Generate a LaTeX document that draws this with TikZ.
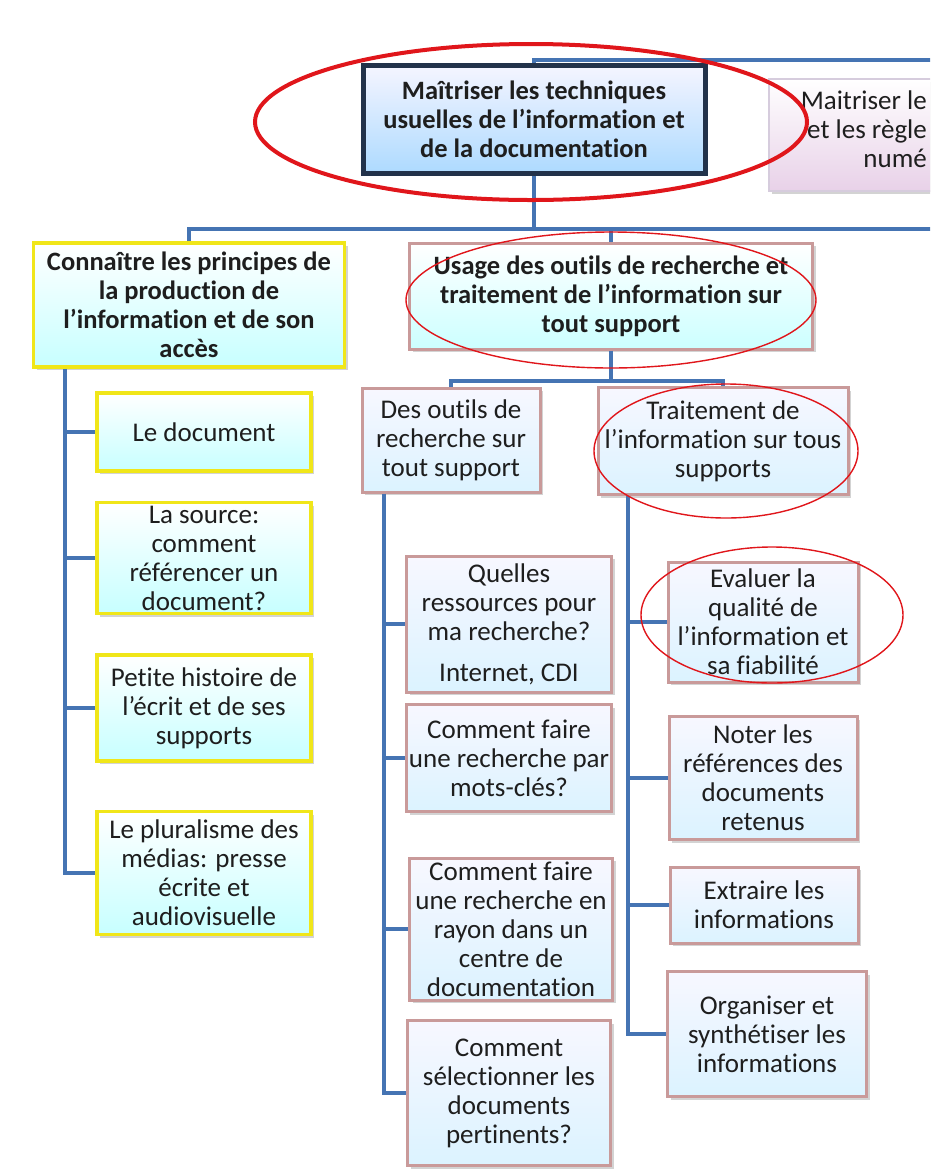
\documentclass[tikz,border=0pt]{standalone}
\usepackage{fontspec}
\setmainfont{Carlito}[Ligatures=NoCommon]
\usetikzlibrary{shadows}

\definecolor{linkblue}{HTML}{4574B3}
\definecolor{navybd}{HTML}{22324A}
\definecolor{yellowbd}{HTML}{F0E619}
\definecolor{rosebd}{HTML}{C99A9A}
\definecolor{violetbd}{HTML}{D6CCDD}
\definecolor{ringred}{HTML}{E0161B}
\definecolor{inktext}{HTML}{1E1E1E}

\begin{document}
\begin{tikzpicture}[x=1pt,y=-1pt,
  boxbase/.style={draw,rectangle,align=center,inner sep=2pt,text=inktext,
    font=\fontsize{27}{29}\selectfont,
    drop shadow={shadow xshift=3pt,shadow yshift=-3pt,opacity=.35}},
  boldtext/.style={font=\fontsize{26.5}{29}\selectfont\bfseries},
  navybox/.style={boxbase,boldtext,draw=navybd,line width=5pt,
    top color=blue!4,bottom color=blue!45!cyan!32},
  yellowbox/.style={boxbase,draw=yellowbd,line width=3.5pt,
    top color=white,bottom color=cyan!22},
  rosebox/.style={boxbase,draw=rosebd,line width=3pt,
    top color=blue!3,bottom color=blue!35!cyan!14},
  violetbox/.style={boxbase,draw=violetbd,line width=2pt,
    top color=white,bottom color=violet!18},
  link/.style={draw=linkblue,line width=4pt},
  bigring/.style={draw=ringred,line width=4pt},
  thinring/.style={draw=ringred,line width=1.4pt}]
  \useasboundingbox (0,0) rectangle (930,1171);
  \clip (0,0) rectangle (930,1171);

  % top level
  \node[navybox,minimum width=342pt,minimum height=108pt] (T) at (534,119)
    {Maîtriser les techniques\\usuelles de l’information et\\de la documentation};
  \node[violetbox,anchor=north west,minimum width=250pt,minimum height=112pt] (M) at (768,78) {};
  \node[anchor=east,align=right,inner sep=0pt,text=inktext,font=\fontsize{27}{29}\selectfont]
    (Mtext) at (927,129) {Maitriser le\\et les règle\\numé};

  % second level
  \node[yellowbox,boldtext,minimum width=311pt,minimum height=124pt] (C) at (189,305)
    {Connaître les principes de\\la production de\\l’information et de son\\accès};
  \node[rosebox,boldtext,top color=white,bottom color=cyan!20,
    minimum width=403pt,minimum height=106pt] (U) at (611,296)
    {Usage des outils de recherche et\\traitement de l’information sur\\tout support};

  % third level
  \node[rosebox,minimum width=178pt,minimum height=104pt] (D) at (451,440)
    {Des outils de\\recherche sur\\tout support};
  \node[rosebox,minimum width=250pt,minimum height=107pt] (R) at (723,441)
    {Traitement de\\l’information sur tous\\supports};

  % left column
  \node[yellowbox,minimum width=214pt,minimum height=78pt] (L1) at (204,432) {Le document};
  \node[yellowbox,minimum width=214pt,minimum height=111pt] (L2) at (204,558)
    {La source:\\comment\\référencer un\\document?};
  \node[yellowbox,minimum width=214pt,minimum height=106pt] (L3) at (204,708)
    {Petite histoire de\\l’écrit et de ses\\supports};
  \node[yellowbox,minimum width=214pt,minimum height=123pt] (L4) at (204,873)
    {Le pluralisme des\\médias: presse\\écrite et\\audiovisuelle};

  % middle column
  \node[rosebox,minimum width=205pt,minimum height=136pt] (Q1) at (509,624)
    {Quelles\\ressources pour\\ma recherche?\\[12pt]Internet, CDI};
  \node[rosebox,minimum width=205pt,minimum height=107pt] (Q2) at (509,758)
    {Comment faire\\une recherche par\\mots-clés?};
  \node[rosebox,minimum width=203pt,minimum height=142pt] (Q3) at (511,929)
    {Comment faire\\une recherche en\\rayon dans un\\centre de\\documentation};
  \node[rosebox,minimum width=203pt,minimum height=145pt] (Q4) at (509,1093)
    {Comment\\sélectionner les\\documents\\pertinents?};

  % right column
  \node[rosebox,minimum width=190pt,minimum height=120pt] (V1) at (763,622)
    {Evaluer la\\qualité de\\l’information et\\sa fiabilité};
  \node[rosebox,minimum width=188pt,minimum height=123pt] (V2) at (763,778)
    {Noter les\\références des\\documents\\retenus};
  \node[rosebox,minimum width=188pt,minimum height=76pt] (V3) at (764,905)
    {Extraire les\\informations};
  \node[rosebox,minimum width=199pt,minimum height=125pt] (V4) at (767,1034)
    {Organiser et\\synthétiser les\\informations};

  % connectors
  \coordinate (rightT) at (940,60);
  \coordinate (hubA) at (534,229);
  \coordinate (rightA) at (940,229);
  \coordinate (hubB) at (611,381);
  \draw[link] (T.north) |- (rightT);
  \draw[link] (T.south) -- (hubA);
  \draw[link] (C.north) |- (hubA) -- (rightA);
  \draw[link] (U.north) -- (U.north |- hubA);
  \draw[link] (U.south) -- (hubB);
  \draw[link] (D.north) |- (hubB);
  \draw[link] (R.north) |- (hubB);

  \coordinate (Cspine) at ([xshift=-124pt]C.south);
  \coordinate (Dspine) at ([xshift=-67pt]D.south);
  \coordinate (Rspine) at ([xshift=-95pt]R.south);
  \draw[link] (Cspine) |- (L4.west);
  \foreach \k in {L1,L2,L3} \draw[link] (Cspine |- \k.west) -- (\k.west);
  \draw[link] (Dspine) |- (Q4.west);
  \foreach \k in {Q1,Q2,Q3} \draw[link] (Dspine |- \k.west) -- (\k.west);
  \draw[link] (Rspine) |- (V4.west);
  \foreach \k in {V1,V2,V3} \draw[link] (Rspine |- \k.west) -- (\k.west);

  % red rings
  \draw[bigring] (531,122) ellipse [x radius=276, y radius=78];
  \draw[thinring] (611,300) ellipse [x radius=205, y radius=68];
  \draw[thinring] (726,451) ellipse [x radius=132, y radius=67];
  \draw[thinring] (772,615) ellipse [x radius=131, y radius=68];
\end{tikzpicture}
\end{document}
